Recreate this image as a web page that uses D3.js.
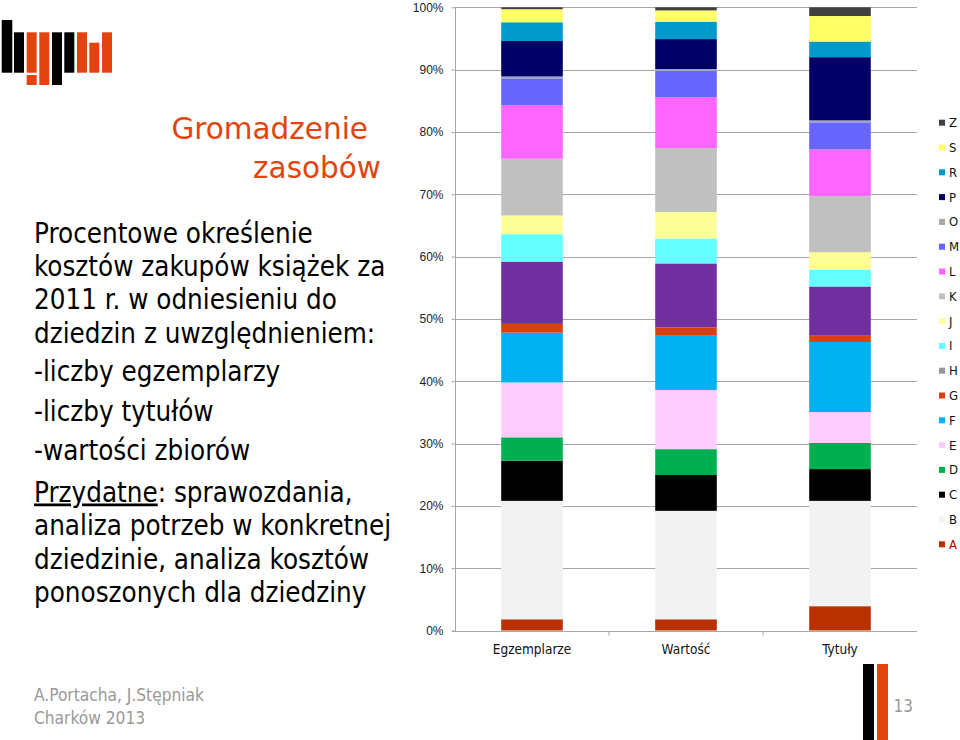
<!DOCTYPE html>
<html><head><meta charset="utf-8">
<script src="https://cdn.jsdelivr.net/npm/d3@7"></script>
<style>body{margin:0;background:#fff}svg{display:block}</style>
</head><body>
<svg id="c" width="960" height="740"></svg>
<script>
const categories = ["Egzemplarze", "Wartość", "Tytuły"];
const seriesKeys = ["A","B","C","D","E","F","G","H","I","J","K","L","M","O","P","R","S","Z"];
const egzemplarze = [1.8,19.0,6.45,3.75,8.8,8.0,1.4,10.0,4.4,3.0,9.1,8.6,4.3,0.3,5.7,3.0,2.1,0.3];
const wartosc     = [1.8,17.4,5.75,4.15,9.5,8.8,1.25,10.25,4.0,4.25,10.25,8.2,4.2,0.3,4.8,2.8,1.8,0.5];
const tytuly      = [3.9,16.9,5.1,4.2,4.95,11.25,1.0,7.9,2.65,2.85,9.0,7.5,4.35,0.3,10.15,2.5,4.1,1.4];
const seriesColors = ["#B93100","#F2F2F2","#000000","#00B050","#FFCCFF","#00B0F0","#DC3F0E","#7030A0","#66FFFF","#FFFF99","#C0C0C0","#FF66FF","#6666FF","#A6A6C0","#000066","#0099CC","#FFFF66","#404040"];
const legendColors = ["#B93100","#F2F2F2","#000000","#00B050","#FFCCFF","#00B0F0","#DC3F0E","#969696","#66FFFF","#FFFF99","#C0C0C0","#FF66FF","#6666FF","#A6A6A6","#000066","#0099CC","#FFFF66","#404040"];
const yTicks = [0,10,20,30,40,50,60,70,80,90,100];

const titleLines = ["Gromadzenie", "zasobów"];
const bodyLines = ["Procentowe określenie","kosztów zakupów książek za","2011 r. w odniesieniu do","dziedzin z uwzględnieniem:","-liczby egzemplarzy","-liczby tytułów","-wartości zbiorów"];
const usefulLines = ["sprawozdania,","analiza potrzeb w konkretnej","dziedzinie, analiza kosztów","ponoszonych dla dziedziny"];
const footerLines = ["A.Portacha, J.Stępniak","Charków 2013"];

const svg = d3.select("#c");
const ORANGE = "#E2440F";

// logo
const logo = [
  [1.7,20,10.6,52.7,"#000"],[14,32.3,10,40.4,"#000"],[26.7,32.3,10,40.4,ORANGE],[26.7,75,10,10,ORANGE],
  [39.3,32.3,10,52.7,ORANGE],[52,32.3,10,52.7,"#000"],[64.3,32.3,10,40.4,"#000"],[77,32.3,10,40.4,ORANGE],
  [89.3,42.7,10,30,ORANGE],[102,32.3,10,40.4,ORANGE]];
svg.append("g").selectAll("rect").data(logo).join("rect")
  .attr("x",d=>d[0]).attr("y",d=>d[1]).attr("width",d=>d[2]).attr("height",d=>d[3]).attr("fill",d=>d[4]);

// title
const tfont = "'DejaVu Sans Condensed','DejaVu Sans',sans-serif";
const hfont = "'DejaVu Sans',sans-serif";
svg.append("text").attr("x",368).attr("y",138.5).attr("text-anchor","end")
  .attr("font-family",hfont).attr("font-size",29.5).attr("fill",ORANGE).text(titleLines[0]);
svg.append("text").attr("x",381).attr("y",178).attr("text-anchor","end")
  .attr("font-family",hfont).attr("font-size",29.5).attr("fill",ORANGE).text(titleLines[1]);

// body
const FS = 27.5;
const bodyY = [243,276,309,342.5,381,420.5,460];
bodyLines.forEach((t,i)=>{
  svg.append("text").attr("x",34).attr("y",bodyY[i]).attr("font-family",tfont)
    .attr("font-size",FS).attr("fill","#000").text(t);
});
const usefulY = [501.5,535,568.5,601.5];
const t0 = svg.append("text").attr("x",34).attr("y",usefulY[0]).attr("font-family",tfont).attr("font-size",FS).attr("fill","#000");
t0.append("tspan").attr("text-decoration","underline").text("Przydatne");
t0.append("tspan").text(": " + usefulLines[0]);
usefulLines.slice(1).forEach((t,i)=>{
  svg.append("text").attr("x",34).attr("y",usefulY[i+1]).attr("font-family",tfont)
    .attr("font-size",FS).attr("fill","#000").text(t);
});

// footer
footerLines.forEach((t,i)=>{
  svg.append("text").attr("x",34).attr("y",[701,724][i]).attr("font-family",tfont)
    .attr("font-size",17.2).attr("fill","#999").text(t);
});
svg.append("rect").attr("x",863).attr("y",664).attr("width",11).attr("height",76).attr("fill","#000");
svg.append("rect").attr("x",877).attr("y",664).attr("width",11).attr("height",76).attr("fill",ORANGE);
svg.append("text").attr("x",913).attr("y",712).attr("text-anchor","end").attr("font-family",tfont)
  .attr("font-size",17).attr("fill","#999").text("13");

// chart
const x = d3.scaleBand().domain(categories).range([455,917]).paddingInner(0.6).paddingOuter(0.3);
const y = d3.scaleLinear().domain([0,100]).range([630.5,7.3]);
const table = categories.map((c,i)=>{
  const row = {cat:c};
  const src = [egzemplarze,wartosc,tytuly][i];
  seriesKeys.forEach((k,j)=>row[k]=src[j]);
  return row;
});
const stack = d3.stack().keys(seriesKeys)(table);

const g = svg.append("g");
g.append("g").selectAll("line").data(yTicks.slice(1)).join("line")
  .attr("x1",455).attr("x2",917).attr("y1",d=>Math.round(y(d))+0.5).attr("y2",d=>Math.round(y(d))+0.5)
  .attr("stroke","#A6A6A6").attr("stroke-width",1);

g.append("g").selectAll("g").data(stack).join("g")
  .attr("fill",(d,i)=>seriesColors[i])
  .selectAll("rect").data(d=>d).join("rect")
  .attr("x",d=>x(d.data.cat)).attr("width",x.bandwidth())
  .attr("y",d=>y(d[1])).attr("height",d=>y(d[0])-y(d[1]));

const ya = g.append("g").attr("transform","translate(455.5,0)")
  .call(d3.axisLeft(y).tickValues(yTicks).tickFormat(d=>d+"%").tickSize(4).tickPadding(8));
ya.select(".domain").attr("stroke","#A6A6A6").attr("d","M0,"+y(100)+"V"+(y(0)+0.5));
ya.selectAll(".tick line").attr("stroke","#A6A6A6");
ya.selectAll(".tick text").attr("font-family","'Liberation Sans',Arial,sans-serif").attr("font-size",12).attr("fill","#222");

const xa = g.append("g").attr("transform","translate(0,"+(Math.round(y(0))+0.5)+")");
xa.append("line").attr("x1",452).attr("x2",917).attr("stroke","#A6A6A6");
xa.selectAll("line.tk").data([455+x.step(), 455+2*x.step()]).join("line").attr("class","tk")
  .attr("x1",d=>d).attr("x2",d=>d).attr("y1",0).attr("y2",4).attr("stroke","#A6A6A6");
xa.selectAll("text").data(categories).join("text")
  .attr("x",d=>x(d)+x.bandwidth()/2).attr("y",22).attr("text-anchor","middle")
  .attr("font-family",tfont).attr("font-size",13.5).attr("fill","#111").text(d=>d);

// legend (Z at top)
const legKeys = seriesKeys.slice().reverse();
const leg = svg.append("g").selectAll("g").data(legKeys).join("g")
  .attr("transform",(d,i)=>"translate(939,"+(122.7+i*24.8)+")");
leg.append("rect").attr("x",0).attr("y",-3).attr("width",6).attr("height",6)
  .attr("fill",d=>legendColors[seriesKeys.indexOf(d)]);
leg.append("text").attr("x",10).attr("y",4.5).attr("font-family",tfont).attr("font-size",13)
  .attr("fill",d=>d==="A"?"#C00000":"#111").text(d=>d);
</script>
</body></html>
